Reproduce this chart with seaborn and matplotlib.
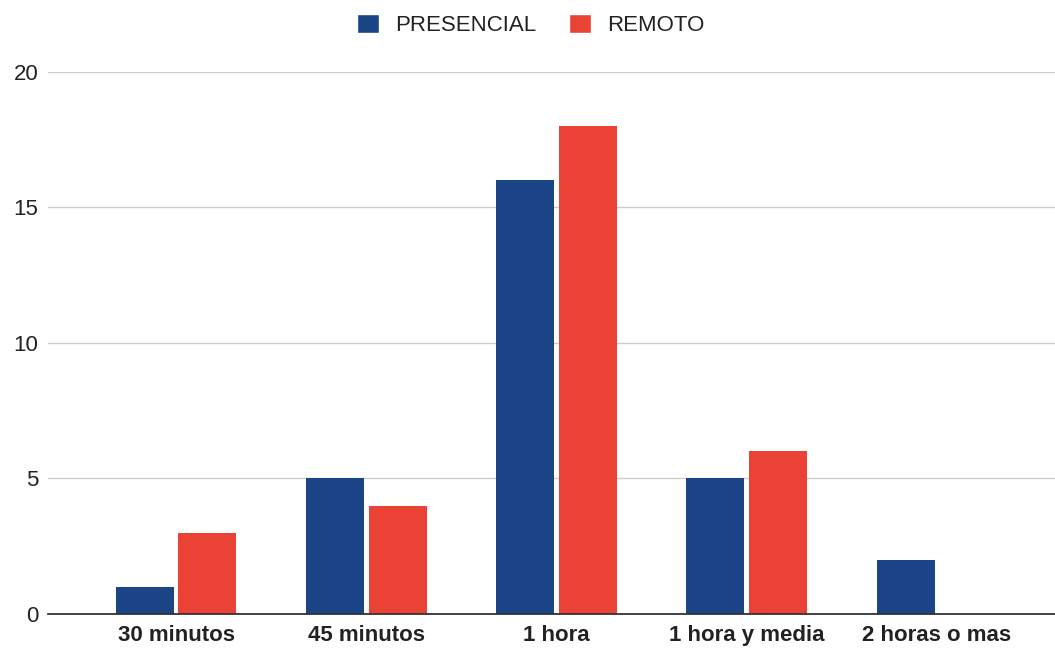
import pandas as pd
import matplotlib
matplotlib.use('Agg')
import matplotlib.pyplot as plt
import seaborn as sns
from matplotlib.patches import Patch

# Data
categories = ['30 minutos', '45 minutos', '1 hora', '1 hora y media', '2 horas o mas']
presencial = [1, 5, 16, 5, 2]
remoto = [3, 4, 18, 6, 0]
series = ['PRESENCIAL', 'REMOTO']
colors = ['#1c4587', '#ea4335']

df = pd.DataFrame({
    'categoria': categories * 2,
    'valor': presencial + remoto,
    'serie': [series[0]] * len(categories) + [series[1]] * len(categories),
})

sns.set_style('white')
plt.rcParams['font.family'] = ['Liberation Sans', 'DejaVu Sans']

fig = plt.figure(figsize=(10.55, 6.48), dpi=100)
ax = fig.add_axes([0.0455, 0.0525, 0.9545, 0.8364])

sns.barplot(data=df, x='categoria', y='valor', hue='serie', order=categories,
            hue_order=series, palette=colors, width=0.66, saturation=1,
            legend=False, ax=ax)

# narrow bars a bit so a small gap appears between the pair
for p in ax.patches:
    cx = p.get_x() + p.get_width() / 2
    p.set_width(0.305)
    p.set_x(cx - 0.305 / 2)
    p.set_linewidth(0)

ax.set_xlim(-0.673, 4.62)
ax.set_ylim(0, 20)
ax.set_yticks([0, 5, 10, 15, 20])
ax.yaxis.grid(True, color='#cccccc', linewidth=1)
ax.set_axisbelow(True)
for s in ['top', 'right', 'left']:
    ax.spines[s].set_visible(False)
ax.spines['bottom'].set_color('#333333')
ax.spines['bottom'].set_linewidth(1.3)
ax.spines['bottom'].set_zorder(5)
ax.set_xlabel('')
ax.set_ylabel('')
ax.tick_params(axis='y', length=0, pad=7, labelsize=16, labelcolor='#222222')
ax.tick_params(axis='x', length=0, pad=8, labelsize=16, labelcolor='#222222')
for t in ax.get_xticklabels():
    t.set_fontweight('bold')

handles = [Patch(facecolor=c, label=s) for c, s in zip(colors, series)]
fig.legend(handles=handles, loc='upper center', bbox_to_anchor=(0.503, 1.01),
           ncol=2, frameon=False, fontsize=16, handlelength=1.0, handleheight=1.0,
           handletextpad=0.7, columnspacing=1.5, labelcolor='#222222')

fig.savefig('out.png', dpi=100)
